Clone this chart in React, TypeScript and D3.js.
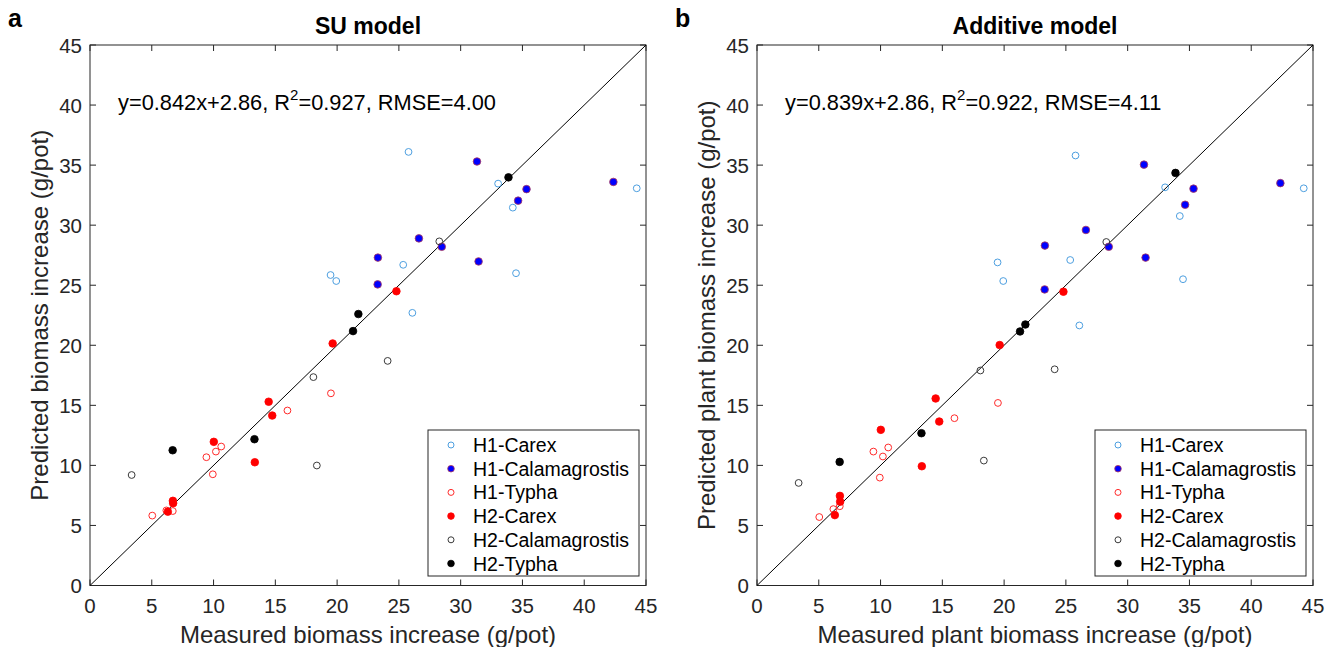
import React from "react";
import * as d3 from "d3";

// ---------- data ----------
const groups = ["H1-Carex", "H1-Calamagrostis", "H1-Typha", "H2-Carex", "H2-Calamagrostis", "H2-Typha"];

// measured biomass increase (g/pot)
const measH1Carex = [19.47, 19.93, 25.78, 33.03, 34.22, 44.25, 25.35, 34.48, 26.09];
const measH1Calam = [23.3, 23.28, 31.32, 35.33, 34.65, 42.36, 26.62, 28.47, 31.45];
const measH1Typha = [19.5, 15.98, 10.62, 10.19, 9.42, 9.94, 6.7, 6.18, 5.04];
const measH2Carex = [19.64, 24.8, 14.46, 14.75, 10.02, 13.34, 6.71, 6.73, 6.3];
const measH2Calam = [24.09, 18.08, 18.36, 3.37, 28.27];
const measH2Typha = [21.72, 21.29, 33.87, 13.31, 6.69];

// SU model predictions
const suH1Carex = [25.85, 25.35, 36.1, 33.46, 31.46, 33.07, 26.7, 26.0, 22.7];
const suH1Calam = [27.3, 25.07, 35.3, 33.0, 32.04, 33.6, 28.9, 28.2, 26.98];
const suH1Typha = [16.0, 14.57, 11.57, 11.15, 10.68, 9.26, 6.2, 6.25, 5.82];
const suH2Carex = [20.15, 24.5, 15.3, 14.15, 11.96, 10.26, 7.05, 6.85, 6.15];
const suH2Calam = [18.7, 17.35, 9.99, 9.2, 28.65];
const suH2Typha = [22.6, 21.18, 33.98, 12.18, 11.26];

// Additive model predictions
const addH1Carex = [26.9, 25.35, 35.8, 33.15, 30.76, 33.07, 27.1, 25.5, 21.65];
const addH1Calam = [28.3, 24.65, 35.04, 33.04, 31.7, 33.5, 29.6, 28.2, 27.3];
const addH1Typha = [15.2, 13.93, 11.49, 10.74, 11.15, 8.98, 6.6, 6.36, 5.7];
const addH2Carex = [20.02, 24.46, 15.57, 13.65, 12.96, 9.93, 7.46, 6.98, 5.86];
const addH2Calam = [18.0, 17.9, 10.4, 8.54, 28.6];
const addH2Typha = [21.73, 21.15, 34.35, 12.68, 10.29];

const ticks = [0, 5, 10, 15, 20, 25, 30, 35, 40, 45];

const measured = [measH1Carex, measH1Calam, measH1Typha, measH2Carex, measH2Calam, measH2Typha];
const predSU = [suH1Carex, suH1Calam, suH1Typha, suH2Carex, suH2Calam, suH2Typha];
const predAdd = [addH1Carex, addH1Calam, addH1Typha, addH2Carex, addH2Calam, addH2Typha];

// ---------- styles ----------
const styles = [
  { fill: "none", stroke: "#4d9fe0" },
  { fill: "#0000ff", stroke: "#b03a58" },
  { fill: "none", stroke: "#ff2a2a" },
  { fill: "#ff0000", stroke: "#ff0000" },
  { fill: "none", stroke: "#3a3a3a" },
  { fill: "#000000", stroke: "#000000" },
];

const FONT = "'Liberation Sans', Arial, Helvetica, sans-serif";
const AX = "#262626";

type PanelProps = {
  left: number;
  letter: string;
  title: string;
  xlabel: string;
  ylabel: string;
  slope: string;
  intercept: string;
  r2: string;
  rmse: string;
  pred: number[][];
};

function Panel(p: PanelProps) {
  const top = 45;
  const bottom = 585.5;
  const width = 556;
  const x = d3.scaleLinear().domain([0, 45]).range([p.left, p.left + width]);
  const y = d3.scaleLinear().domain([0, 45]).range([bottom, top]);
  const tl = 6;
  const legX = p.left + width - 7 - 211;
  const legY = 430;
  const cx = p.left + width / 2;
  const lineGen = d3.line<number>().x((v) => x(v)).y((v) => y(v));
  return (
    <g fontFamily={FONT}>
      <text x={p.left - 82} y={27} fontSize={25} fontWeight="bold" fill="#000">{p.letter}</text>
      <text x={cx} y={34} fontSize={23} fontWeight="bold" textAnchor="middle" fill="#000">{p.title}</text>
      {/* axes box */}
      <rect x={x(0)} y={y(45)} width={x(45) - x(0)} height={y(0) - y(45)} fill="none" stroke={AX} strokeWidth={1} />
      {ticks.map((t) => (
        <g key={"t" + t}>
          <line x1={x(t)} x2={x(t)} y1={y(0)} y2={y(0) - tl} stroke={AX} />
          <line x1={x(t)} x2={x(t)} y1={y(45)} y2={y(45) + tl} stroke={AX} />
          <line x1={x(0)} x2={x(0) + tl} y1={y(t)} y2={y(t)} stroke={AX} />
          <line x1={x(45)} x2={x(45) - tl} y1={y(t)} y2={y(t)} stroke={AX} />
          <text x={x(t)} y={y(0) + 27} fontSize={20.5} textAnchor="middle" fill={AX}>{t}</text>
          <text x={x(0) - 8} y={y(t) + 7.5} fontSize={20.5} textAnchor="end" fill={AX}>{t}</text>
        </g>
      ))}
      <text x={cx} y={643} fontSize={24} textAnchor="middle" fill={AX}>{p.xlabel}</text>
      <text transform={`translate(${p.left - 42},${(top + bottom) / 2}) rotate(-90)`} fontSize={24} textAnchor="middle" fill={AX}>{p.ylabel}</text>
      {/* 1:1 line */}
      <path d={lineGen([0, 45]) || ""} stroke="#000" strokeWidth={1} fill="none" />
      {/* points */}
      {measured.map((ms, gi) => (
        <g key={"g" + gi}>
          {ms.map((m, i) => (
            <circle key={i} cx={x(m)} cy={y(p.pred[gi][i])} r={styles[gi].fill === "none" ? 3.4 : 3.8}
              fill={styles[gi].fill} stroke={styles[gi].stroke} strokeWidth={styles[gi].fill === "none" ? 1 : 0.8} />
          ))}
        </g>
      ))}
      {/* equation */}
      <text x={p.left + 28} y={110} fontSize={21.8} fill="#000">
        {`y=${p.slope}x+${p.intercept}, R`}
        <tspan fontSize={15} dy={-10}>2</tspan>
        <tspan dy={10}>{`=${p.r2}, RMSE=${p.rmse}`}</tspan>
      </text>
      {/* legend */}
      <rect x={legX} y={legY} width={211} height={146} fill="#fff" stroke={AX} strokeWidth={1} />
      {groups.map((g, gi) => {
        const ly = legY + 15 + gi * 23.7;
        return (
          <g key={"l" + gi}>
            <circle cx={legX + 23} cy={ly} r={styles[gi].fill === "none" ? 3 : 3.3}
              fill={styles[gi].fill} stroke={styles[gi].stroke} strokeWidth={styles[gi].fill === "none" ? 1 : 0.8} />
            <text x={legX + 45} y={ly + 7} fontSize={19.5} fill="#000">{g}</text>
          </g>
        );
      })}
    </g>
  );
}

export default function App() {
  return (
    <svg width={1333} height={647} style={{ position: "absolute", left: 0, top: 0, background: "#fff" }}>
      <rect x={0} y={0} width={1333} height={647} fill="#fff" />
      <Panel left={90} letter="a" title="SU model" xlabel="Measured biomass increase (g/pot)"
        ylabel="Predicted biomass increase (g/pot)" slope="0.842" intercept="2.86" r2="0.927" rmse="4.00" pred={predSU} />
      <Panel left={757} letter="b" title="Additive model" xlabel="Measured plant biomass increase (g/pot)"
        ylabel="Predicted plant biomass increase (g/pot)" slope="0.839" intercept="2.86" r2="0.922" rmse="4.11" pred={predAdd} />
    </svg>
  );
}
